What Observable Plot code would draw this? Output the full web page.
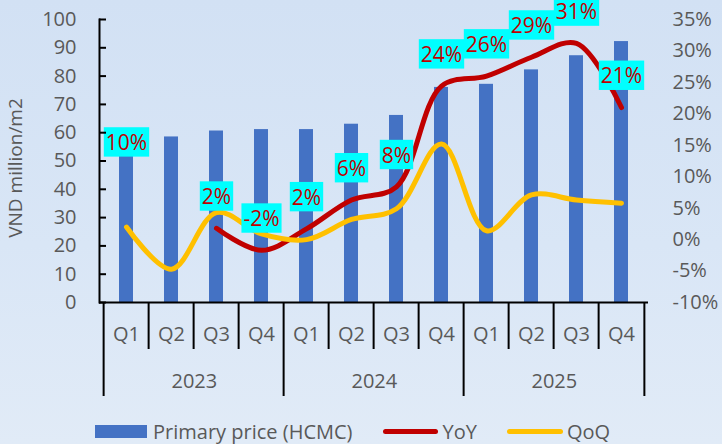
<!DOCTYPE html>
<html>
<head>
<meta charset="utf-8">
<script src="https://cdn.jsdelivr.net/npm/d3@7"></script>
<script src="https://cdn.jsdelivr.net/npm/@observablehq/plot@0.6"></script>
<style>
  html, body { margin: 0; padding: 0; }
  body {
    width: 722px; height: 444px; overflow: hidden;
    background: linear-gradient(180deg, #d2e1f4 0%, #d9e6f6 55%, #e1ebf7 100%);
    font-family: "Open Sans", sans-serif; color: #595959;
  }
  #chart svg { display: block; overflow: visible; }
  #legend {
    height: 26px; padding-top: 8px; display: flex; align-items: center;
    font-size: 20px; color: #595959; padding-left: 95px; box-sizing: content-box;
  }
  .sw { display: inline-block; }
</style>
</head>
<body>
<div id="chart"></div>
<div id="legend">
  <span class="sw" style="width:52px;height:13px;background:#4472C4;margin-right:6px"></span>
  <span>Primary price (HCMC)</span>
  <span class="sw" style="width:55px;height:5px;border-radius:3px;background:#C00000;margin-left:31px;margin-right:4px"></span>
  <span>YoY</span>
  <span class="sw" style="width:56px;height:5px;border-radius:3px;background:#FFC000;margin-left:30px;margin-right:4px"></span>
  <span>QoQ</span>
</div>
<script>
// ---- data ----
const years = ["2023", "2024", "2025"];
const quarters = ["Q1", "Q2", "Q3", "Q4"];
const price = [60.0, 58.5, 60.6, 61.1, 61.1, 63.0, 66.1, 76.0, 77.1, 82.2, 87.2, 92.2];
const yoy = [10.4, null, 1.8, -1.7, 1.7, 6.3, 8.4, 24.4, 26.0, 29.0, 31.2, 21.0];
const qoq = [2.0, -4.7, 4.3, 0.9, 0.0, 3.2, 4.9, 15.2, 1.4, 7.1, 6.3, 5.8];
const leftTicks = [0, 10, 20, 30, 40, 50, 60, 70, 80, 90, 100];
const rightTicks = [-10, -5, 0, 5, 10, 15, 20, 25, 30, 35];

// ---- build ----
const periods = years.flatMap(y => quarters.map(q => `${y} ${q}`));
const rows = periods.map((p, i) => ({period: p, price: price[i], yoy: yoy[i], qoq: qoq[i]}));
// a YoY point is only part of the line if a neighbour has a value too
const yoyLine = rows.filter((d, i) => d.yoy != null && ((i > 0 && yoy[i - 1] != null) || (i < yoy.length - 1 && yoy[i + 1] != null)));
const pctMin = -10, pctMax = 35;
const toLeft = p => (p - pctMin) * 100 / (pctMax - pctMin);
const fromLeft = v => v * (pctMax - pctMin) / 100 + pctMin;

const W = 722, H = 410, mL = 99, mR = 74, mT = 19, mB = 108;
const step = (W - mL - mR) / periods.length;
const fmt = p => `${Math.round(p)}%`;

const yearStarts = years.map(y => `${y} Q1`);
const innerBounds = periods.filter(p => !p.endsWith("Q1"));
const yearMids = years.map(y => `${y} Q2`);
const last = periods[periods.length - 1];
const ink = "black";

const chart = Plot.plot({
  width: W, height: H,
  marginLeft: mL, marginRight: mR, marginTop: mT, marginBottom: mB,
  style: {fontFamily: "'Open Sans', sans-serif", fontSize: "20px", color: "#595959", background: "transparent", overflow: "visible"},
  x: {domain: periods, paddingInner: 0.69, paddingOuter: 0.345, axis: null, label: null},
  y: {domain: [0, 100], axis: null, label: null},
  marks: [
    Plot.barY(rows, {x: "period", y: "price", fill: "#4472C4"}),
    Plot.line(yoyLine, {x: "period", y: d => toLeft(d.yoy), stroke: "#C00000", strokeWidth: 5, curve: "catmull-rom", strokeLinecap: "round"}),
    Plot.line(rows, {x: "period", y: d => toLeft(d.qoq), stroke: "#FFC000", strokeWidth: 5, curve: "catmull-rom", strokeLinecap: "round"}),
    Plot.text(rows.filter(d => d.yoy != null), {x: "period", y: d => toLeft(d.yoy), text: d => fmt(d.yoy), dy: -31, fill: "#C00000", fontSize: 21, className: "yoy-label"}),
    // left axis
    Plot.axisY({ticks: leftTicks, label: null, tickSize: 0, tickPadding: 23, stroke: "none", fill: "#595959", fontSize: 20}),
    Plot.axisY({ticks: leftTicks, label: null, tickSize: 7, dx: 7, fill: "none", stroke: ink, strokeWidth: 2}),
    Plot.frame({anchor: "left", stroke: ink, strokeWidth: 2}),
    // right axis (percent)
    Plot.axisY({anchor: "right", label: null, ticks: rightTicks.map(toLeft), tickFormat: v => `${Math.round(fromLeft(v))}%`, tickSize: 0, tickPadding: 24, stroke: "none", fill: "#595959", fontSize: 20}),
    // x axis line
    Plot.ruleY([0], {stroke: ink, strokeWidth: 2}),
    // separators
    Plot.axisX({ticks: innerBounds, label: null, tickSize: 47, dx: -step / 2, fill: "none", stroke: ink, strokeWidth: 2}),
    Plot.axisX({ticks: yearStarts, label: null, tickSize: 94, dx: -step / 2, fill: "none", stroke: ink, strokeWidth: 2}),
    Plot.axisX({ticks: [last], label: null, tickSize: 94, dx: step / 2, fill: "none", stroke: ink, strokeWidth: 2}),
    // quarter labels
    Plot.axisX({ticks: periods, label: null, tickFormat: d => d.slice(5), tickSize: 0, tickPadding: 24, stroke: "none", fill: "#595959", fontSize: 20}),
    // year labels
    Plot.axisX({ticks: yearMids, label: null, tickFormat: d => d.slice(0, 4), tickSize: 0, tickPadding: 71, dx: step / 2, stroke: "none", fill: "#595959", fontSize: 20}),
    // y axis title
    Plot.text(["VND million/m2"], {frameAnchor: "left", textAnchor: "middle", dx: -84, dy: 7, rotate: -90, fill: "#595959", fontSize: 19})
  ]
});
document.getElementById("chart").appendChild(chart);

// cyan boxes behind data labels, sized from the rendered text
document.querySelectorAll(".yoy-label text").forEach(t => {
  const b = t.getBBox();
  const r = document.createElementNS("http://www.w3.org/2000/svg", "rect");
  const cy = b.y + b.height / 2;
  r.setAttribute("x", b.x - 2);
  r.setAttribute("y", cy - 14.7);
  r.setAttribute("width", b.width + 4);
  r.setAttribute("height", 29.4);
  r.setAttribute("fill", "#00FFFF");
  if (t.getAttribute("transform")) r.setAttribute("transform", t.getAttribute("transform"));
  t.parentNode.insertBefore(r, t);
});
</script>
</body>
</html>
